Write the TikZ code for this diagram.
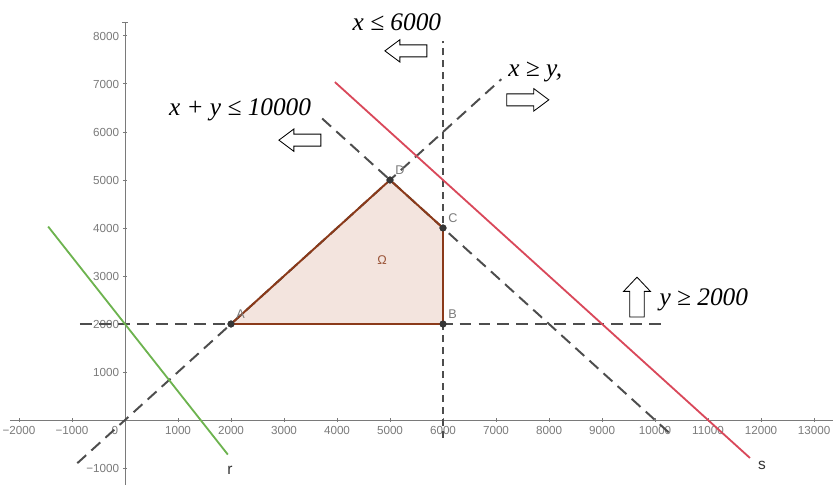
\documentclass[tikz,border=0pt]{standalone}
\usepackage{fontspec}
\setmainfont{Liberation Serif}
\setsansfont{Liberation Sans}
\usepackage{xcolor}
\usetikzlibrary{arrows.meta,positioning,calc}
\definecolor{lineRed}{HTML}{D9485A}
\definecolor{lineGreen}{HTML}{6DB34F}
\definecolor{regEdge}{HTML}{8B3A1A}
\definecolor{regFill}{HTML}{F3E4DE}
\definecolor{axisGray}{HTML}{7A7A7A}
\definecolor{dashGray}{HTML}{4D4D4D}
\tikzset{
  gaxis/.style={draw=axisGray,line width=0.7pt},
  gtick/.style={font=\sffamily\fontsize{8.3}{9}\selectfont,text=axisGray,inner sep=1pt},
  gdash/.style={draw=dashGray,line width=1.4pt,dash pattern=on 8.5pt off 5pt},
  gdashv/.style={gdash,dash pattern=on 5pt off 3.5pt},
  gline/.style={line width=1.3pt},
  gedge/.style={draw=regEdge,line width=1.4pt,line join=round},
  gpoint/.style={circle,fill=dashGray!70!black,inner sep=0pt,minimum size=5pt},
  gplab/.style={font=\sffamily\fontsize{9}{10}\selectfont,text=axisGray,inner sep=0.5pt},
  gineq/.style={font=\itshape\fontsize{18}{20}\selectfont,inner sep=0pt},
  pics/openarr/.style={code={
    \draw[fill=white,line width=0.6pt,line join=miter]
      (-0.525cm,-0.15cm) -- (0.15cm,-0.15cm) -- (0.15cm,-0.28cm) -- (0.525cm,0cm)
      -- (0.15cm,0.28cm) -- (0.15cm,0.15cm) -- (-0.525cm,0.15cm) -- cycle;}},
}

\begin{document}
\begin{tikzpicture}[x=1.325cm,y=1.2cm]
\useasboundingbox (-2.3585,-1.354) rectangle (13.396,8.75);
% feasible region
\fill[regFill] (2,2) -- (6,2) -- (6,4) -- (5,5) -- cycle;
% axes and ticks
\draw[gaxis] (-2.17,0) -- (13.36,0);
\draw[gaxis] (0,-1.4) -- (0,8.29);
\draw[gaxis] (-0.05,8.29) -- (0.05,8.29);
\foreach \i in {-2,...,13} \draw[gaxis] (\i,-0.04) -- (\i,0.04);
\foreach \j in {-1,...,8} \draw[gaxis] (-0.04,\j) -- (0.04,\j);
\foreach \i in {1,...,13} \node[gtick,anchor=north] (xl\i) at (\i,-0.1) {\i000};
\node[gtick,anchor=north] (xlm1) at (-1,-0.1) {−1000};
\node[gtick,anchor=north] (xlm2) at (-2,-0.1) {−2000};
\node[gtick,anchor=north] (xl0) at (-0.19,-0.1) {0};
\foreach \j in {1,...,8} \node[gtick,anchor=east] (yl\j) at (-0.08,\j) {\j000};
\node[gtick,anchor=east] (ylm1) at (-0.08,-1) {−1000};
% end points of the lines
\coordinate (hL) at (-0.85,2);    \coordinate (hR) at (10.25,2);
\coordinate (vT) at (6,7.9);      \coordinate (vB) at (6,-0.37);
\coordinate (dL) at (-0.9,-0.9);  \coordinate (dR) at (7.1,7.1);
\coordinate (aT) at (3.72,6.28);  \coordinate (aB) at (10.35,-0.35);
\coordinate (rT) at (-1.45,4.03); \coordinate (rB) at (1.94,-0.72);
\coordinate (sT) at (3.96,7.04);  \coordinate (sB) at (11.79,-0.79);
\draw[gdash] (hL) -- (hR);
\draw[gdashv] (vB) -- (vT);
\draw[gdash] (dL) -- (dR);
\draw[gdash] (aT) -- (aB);
\draw[gline,lineGreen] (rT) -- (rB);
\draw[gline,lineRed] (sT) -- (sB);
\node[font=\sffamily\fontsize{11}{12}\selectfont,text=black!80] (rlab) at (1.98,-1.04) {r};
\node[font=\sffamily\fontsize{11}{12}\selectfont,text=black!80] (slab) at (12.02,-0.94) {s};
% vertices
\node[gpoint] (A) at (2,2) {};
\node[gpoint] (B) at (6,2) {};
\node[gpoint] (C) at (6,4) {};
\node[gpoint] (D) at (5,5) {};
\draw[gedge] (A.center) -- (B.center) -- (C.center) -- (D.center) -- cycle;
\node[gpoint] at (A) {}; \node[gpoint] at (B) {};
\node[gpoint] at (C) {}; \node[gpoint] at (D) {};
\node[gplab,above right=0.4mm and 0.4mm of A] (Alab) {A};
\node[gplab,above right=0.4mm and 0.4mm of B] (Blab) {B};
\node[gplab,above right=0.4mm and 0.4mm of C] (Clab) {C};
\node[gplab,above right=0.4mm and 0.4mm of D] (Dlab) {D};
\node[font=\sffamily\fontsize{9}{10}\selectfont,text=regEdge!85] (omega) at (4.85,3.33) {Ω};
% inequalities
\node[gineq] (ineqX) at (5.13,8.29) {x ≤ 6000};
\pic[rotate=180] (arrX) at (5.30,7.69) {openarr};
\node[gineq] (ineqSum) at (2.17,6.46) {x + y ≤ 10000};
\pic[rotate=180] (arrSum) at (3.30,5.83) {openarr};
\node[gineq] (ineqXY) at (7.74,7.25) {x ≥ y,};
\pic (arrXY) at (7.60,6.67) {openarr};
\node[gineq] (ineqY) at (10.92,2.5) {y ≥ 2000};
\pic[rotate=90,yscale=1.2,xscale=0.95] (arrY) at (9.66,2.56) {openarr};
\end{tikzpicture}
\end{document}
